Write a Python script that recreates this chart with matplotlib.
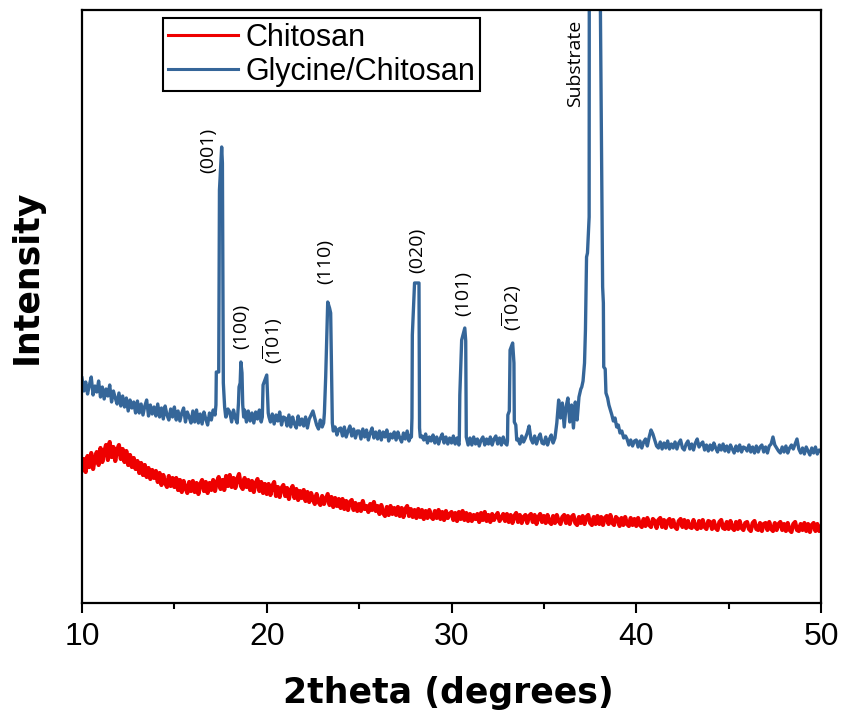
import numpy as np
import matplotlib
matplotlib.use("Agg")
import matplotlib.pyplot as plt

plt.rcParams['mathtext.fontset'] = 'custom'
plt.rcParams['mathtext.rm'] = 'Open Sans'
plt.rcParams['mathtext.it'] = 'Open Sans:italic'
plt.rcParams['mathtext.bf'] = 'Open Sans:bold'

# ---------------- data (2theta in degrees, intensity in a.u.) ----------------
theta_start = 10.0
theta_step = 0.1

# Glycine/Chitosan background, one row per degree (x.0 ... x.9), last value at 50.0
glycine_rows = [
    [225, 212, 221, 209, 218, 226, 208, 217, 211, 222],  # 10
    [206, 216, 204, 214, 207, 218, 201, 212, 205, 199],  # 11
    [210, 197, 207, 196, 205, 192, 203, 195, 201, 190],  # 12
    [202, 190, 199, 188, 197, 203, 187, 198, 189, 196],  # 13
    [187, 199, 186, 195, 184, 197, 188, 183, 194, 186],  # 14
    [196, 183, 192, 182, 190, 195, 181, 191, 186, 180],  # 15
    [192, 181, 193, 180, 189, 179, 191, 184, 178, 190],  # 16
    [183, 193, 181, 190, 180, 188, 185, 190, 186, 194],  # 17
    [191, 181, 193, 185, 180, 188, 191, 185, 193, 181],  # 18
    [192, 182, 190, 180, 191, 184, 193, 181, 189, 190],  # 19
    [185, 192, 181, 189, 179, 188, 182, 191, 178, 186],  # 20
    [185, 177, 188, 176, 186, 179, 175, 187, 178, 184],  # 21
    [177, 186, 175, 184, 188, 192, 185, 178, 174, 183],  # 22
    [176, 182, 175, 178, 173, 176, 171, 176, 168, 174],  # 23
    [175, 167, 176, 166, 172, 177, 167, 174, 165, 172],  # 24
    [172, 164, 174, 166, 173, 163, 170, 175, 165, 171],  # 25
    [164, 172, 163, 171, 166, 173, 162, 169, 165, 171],  # 26
    [163, 171, 165, 161, 170, 164, 172, 162, 168, 165],  # 27
    [170, 162, 169, 161, 167, 163, 169, 160, 166, 162],  # 28
    [168, 160, 166, 159, 165, 169, 160, 166, 159, 165],  # 29
    [160, 167, 159, 165, 158, 164, 167, 159, 164, 158],  # 30
    [165, 158, 166, 159, 164, 157, 163, 166, 158, 164],  # 31
    [159, 166, 158, 164, 167, 159, 165, 158, 166, 160],  # 32
    [158, 165, 159, 166, 161, 158, 164, 159, 167, 161],  # 33
    [165, 170, 177, 164, 160, 167, 159, 165, 169, 160],  # 34
    [159, 166, 158, 164, 168, 160, 165, 180, 203, 185],  # 35
    [200, 176, 196, 205, 181, 198, 175, 201, 183, 206],  # 36
    [214, 216, 230, 270, 350, 390, 600, 800, 900, 900],  # 37
    [900, 600, 300, 236, 205, 195, 190, 185, 180, 175],  # 38
    [172, 170, 165, 167, 162, 164, 158, 163, 157, 162],  # 39
    [163, 156, 162, 155, 161, 164, 157, 166, 173, 169],  # 40
    [163, 157, 155, 161, 154, 160, 155, 162, 154, 159],  # 41
    [155, 161, 154, 160, 163, 155, 153, 159, 162, 154],  # 42
    [159, 153, 160, 164, 156, 159, 161, 153, 158, 152],  # 43
    [158, 153, 160, 155, 151, 158, 153, 159, 152, 157],  # 44
    [151, 158, 154, 150, 157, 152, 158, 151, 156, 155],  # 45
    [152, 158, 151, 156, 150, 157, 151, 156, 158, 151],  # 46
    [156, 150, 157, 159, 166, 158, 155, 152, 150, 156],  # 47
    [151, 157, 150, 155, 158, 154, 159, 164, 154, 150],  # 48
    [155, 149, 156, 152, 148, 155, 150, 156, 149, 153],  # 49
    [152],                                               # 50
]

# Glycine/Chitosan reflections (2theta, intensity)
peak_001_x = [17.20, 17.25, 17.27, 17.40, 17.44, 17.56, 17.60, 17.65, 17.72, 17.78]
peak_001_y = [188, 198, 231, 231, 413, 456, 440, 220, 196, 186]
peak_100_x = [18.42, 18.47, 18.50, 18.56, 18.60, 18.66, 18.70, 18.75]
peak_100_y = [186, 200, 216, 220, 241, 230, 198, 186]
peak_m101_x = [19.76, 19.80, 19.88, 20.00, 20.05, 20.08, 20.12]
peak_m101_y = [186, 218, 222, 228, 205, 190, 186]
peak_110_x = [23.08, 23.12, 23.19, 23.30, 23.40, 23.46, 23.55, 23.60]
peak_110_y = [180, 190, 226, 301, 295, 290, 180, 172]
peak_020_x = [27.83, 27.86, 27.88, 28.00, 28.24, 28.27, 28.31]
peak_020_y = [166, 185, 268, 320, 320, 175, 166]
peak_101_x = [30.42, 30.45, 30.55, 30.72, 30.77, 30.80]
peak_101_y = [162, 208, 263, 275, 262, 166]
peak_m102_x = [33.03, 33.05, 33.13, 33.17, 33.31, 33.38, 33.40, 33.48, 33.53]
peak_m102_y = [162, 188, 192, 253, 260, 240, 181, 178, 163]
substrate_x = [37.05, 37.12, 37.20, 37.25, 37.31, 37.36, 37.45, 37.47, 38.03, 38.06,
               38.18, 38.22, 38.24, 38.32, 38.36, 38.45, 38.52, 38.60, 38.68, 38.76,
               38.85, 38.94, 39.03, 39.12, 39.22, 39.32, 39.42]
substrate_y = [216, 222, 240, 273, 346, 350, 386, 1000, 1000, 593,
               316, 300, 236, 234, 210, 205, 198, 193, 188, 182,
               185, 176, 178, 170, 172, 165, 167]

# Chitosan, one row per degree
chitosan_rows = [
    [133, 144, 131, 147, 136, 150, 134, 145, 151, 138],  # 10
    [155, 141, 151, 158, 143, 161, 146, 156, 142, 153],  # 11
    [158, 144, 154, 141, 152, 138, 148, 136, 145, 134],  # 12
    [142, 130, 140, 128, 138, 126, 135, 124, 133, 125],  # 13
    [132, 121, 130, 118, 128, 120, 116, 127, 117, 125],  # 14
    [116, 125, 113, 123, 111, 122, 115, 110, 121, 112],  # 15
    [122, 111, 120, 109, 119, 123, 112, 121, 110, 120],  # 16
    [113, 123, 112, 121, 126, 114, 123, 113, 127, 117],  # 17
    [128, 116, 125, 115, 124, 129, 117, 114, 125, 116],  # 18
    [123, 113, 122, 111, 120, 124, 112, 121, 110, 119],  # 19
    [109, 119, 108, 117, 121, 107, 116, 106, 115, 118],  # 20
    [107, 115, 104, 113, 117, 105, 114, 103, 112, 105],  # 21
    [113, 102, 111, 101, 110, 104, 99, 109, 101, 98],    # 22
    [107, 99, 104, 109, 98, 106, 96, 105, 97, 104],      # 23
    [95, 104, 94, 102, 93, 101, 103, 93, 100, 92],       # 24
    [99, 92, 102, 94, 97, 91, 99, 93, 101, 92],          # 25
    [97, 89, 98, 90, 87, 96, 88, 97, 89, 95],            # 26
    [88, 96, 87, 95, 86, 94, 97, 87, 94, 86],            # 27
    [93, 85, 94, 86, 93, 84, 92, 85, 93, 86],            # 28
    [84, 92, 85, 93, 84, 91, 83, 92, 85, 89],            # 29
    [91, 83, 90, 82, 91, 84, 92, 83, 90, 82],            # 30
    [89, 82, 88, 84, 89, 81, 90, 83, 91, 82],            # 31
    [88, 81, 89, 83, 87, 90, 82, 85, 89, 82],            # 32
    [89, 81, 88, 80, 87, 90, 81, 88, 80, 86],            # 33
    [88, 80, 87, 89, 81, 88, 79, 86, 89, 81],            # 34
    [87, 80, 88, 81, 79, 87, 80, 88, 82, 79],            # 35
    [86, 88, 80, 87, 79, 86, 88, 80, 78, 86],            # 36
    [80, 87, 79, 86, 88, 80, 78, 86, 79, 87],            # 37
    [79, 86, 78, 85, 87, 79, 88, 80, 78, 86],            # 38
    [84, 77, 85, 78, 86, 79, 77, 85, 78, 84],            # 39
    [77, 85, 78, 76, 84, 77, 85, 78, 76, 84],            # 40
    [82, 75, 83, 85, 76, 83, 75, 82, 84, 76],            # 41
    [83, 76, 74, 82, 84, 76, 83, 75, 82, 76],            # 42
    [75, 83, 76, 74, 82, 75, 83, 76, 74, 82],            # 43
    [81, 74, 82, 75, 73, 81, 83, 75, 74, 81],            # 44
    [74, 82, 75, 73, 81, 74, 82, 75, 73, 80],            # 45
    [81, 74, 72, 80, 82, 74, 73, 80, 72, 79],            # 46
    [80, 73, 81, 74, 72, 80, 73, 79, 81, 73],            # 47
    [79, 72, 80, 73, 71, 79, 81, 73, 72, 79],            # 48
    [73, 80, 72, 79, 71, 78, 80, 72, 79, 72],            # 49
    [76],                                                # 50
]

peak_labels = ['(001)', '(100)', r'($\overline{\mathrm{1}}$01)', '(110)', '(020)',
               '(101)', r'($\overline{\mathrm{1}}$02)', 'Substrate']
label_x = [16.82, 18.61, 20.32, 23.19, 28.12, 30.62, 33.26, 36.69]
label_y = [453, 277, 262, 342, 353, 310, 295, 540]

xticks = [10, 20, 30, 40, 50]
series_names = ['Chitosan', 'Glycine/Chitosan']

# ---------------- build series ----------------
def grid_series(rows):
    vals = np.array([v for r in rows for v in r], dtype=float)
    x = theta_start + theta_step * np.arange(len(vals))
    return x, vals

gx, gy = grid_series(glycine_rows)
cx, cy = grid_series(chitosan_rows)

peaks = [(peak_001_x, peak_001_y), (peak_100_x, peak_100_y), (peak_m101_x, peak_m101_y),
         (peak_110_x, peak_110_y), (peak_020_x, peak_020_y), (peak_101_x, peak_101_y),
         (peak_m102_x, peak_m102_y), (substrate_x, substrate_y)]
mask = np.ones_like(gx, dtype=bool)
for px, py in peaks:
    mask &= ~((gx >= min(px) - 1e-9) & (gx <= max(px) + 1e-9))
bx = list(gx[mask])
by = list(gy[mask])
for px, py in peaks:
    bx += list(px)
    by += list(py)
order = np.argsort(bx)
bx = np.array(bx)[order]
by = np.array(by)[order]

# ---------------- figure ----------------
fig = plt.figure(figsize=(8.41, 7.22), dpi=100)
ax = fig.add_axes([82 / 841, 1 - 603 / 722, (821 - 82) / 841, (603 - 10) / 722])

red = '#EE0000'
blue = '#356699'
l1, = ax.plot(cx, cy, color=red, lw=3.0, label=series_names[0])
l2, = ax.plot(bx, by, color=blue, lw=2.4, label=series_names[1])

ax.set_xlim(10, 50)
ax.set_ylim(0, 593)
ax.set_xticks(xticks)
ax.set_xticks([15, 25, 35, 45], minor=True)
ax.set_yticks([])
ax.tick_params(axis='x', which='major', direction='out', length=7, width=1.5, pad=7,
               labelsize=23)
ax.tick_params(axis='x', which='minor', direction='out', length=4, width=1.5)
for lab in ax.get_xticklabels():
    lab.set_family('Liberation Sans')
for sp in ax.spines.values():
    sp.set_linewidth(1.6)
    sp.set_color('black')

for t, x, y in zip(peak_labels, label_x, label_y):
    ax.text(x, y, t, rotation=90, ha='center', va='center', fontsize=14,
            family='Open Sans', color='black')

leg = ax.legend(handles=[l1, l2], loc='upper left', bbox_to_anchor=(0.1096, 0.9865),
                borderaxespad=0, frameon=True, fancybox=False, edgecolor='black',
                framealpha=1, prop={'family': 'Liberation Sans', 'size': 22},
                handlelength=2.3, handletextpad=0.25, borderpad=0.15, labelspacing=0.13)
leg.get_frame().set_linewidth(1.5)
for h in leg.get_lines():
    h.set_linewidth(2.2)

fig.text(448 / 841, 1 - 703 / 722, '2theta (degrees)', ha='center', va='baseline',
         fontsize=25, fontweight='bold', family='DejaVu Sans')
fig.text(27 / 841, 1 - 277 / 722, 'Intensity', ha='center', va='center', rotation=90,
         fontsize=25, fontweight='bold', family='DejaVu Sans')

fig.savefig('out.png', dpi=100)
